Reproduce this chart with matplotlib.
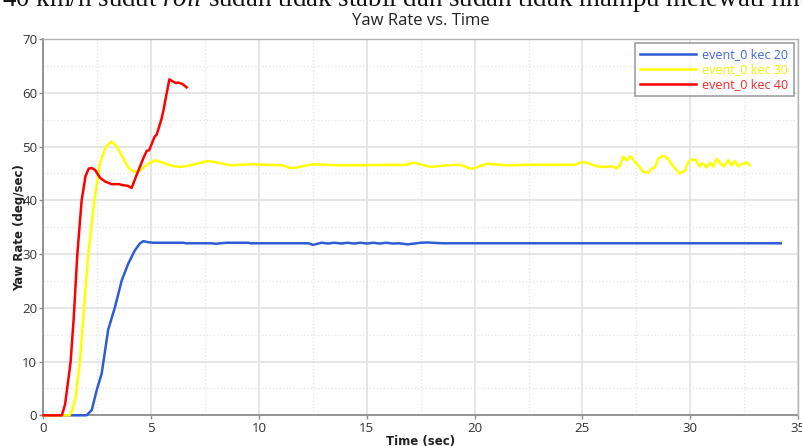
import matplotlib
matplotlib.use("Agg")
import matplotlib.pyplot as plt
from matplotlib.ticker import MultipleLocator

# ---- data ----
blue_t = [0, 2.0, 2.24, 2.47, 2.7, 3.0, 3.32, 3.63, 3.93, 4.24, 4.48, 4.63, 4.85, 5.1,
          6.5, 6.6, 7.8, 8.0, 8.2, 8.5, 9.5, 9.6, 12.3, 12.5, 12.7, 12.9, 13.2, 13.5,
          13.8, 14.1, 14.4, 14.7, 15.0, 15.3, 15.6, 15.9, 16.2, 16.5, 16.9, 17.1, 17.5,
          17.8, 18.5, 19.0, 34.2]
blue_y = [0, 0, 1.0, 4.7, 7.8, 15.9, 20.2, 25.1, 28.2, 30.7, 32.0, 32.4, 32.2, 32.1,
          32.1, 32.0, 32.0, 31.9, 32.0, 32.1, 32.1, 32.0, 32.0, 31.7, 31.9, 32.1, 31.95, 32.1,
          31.95, 32.1, 31.95, 32.1, 31.95, 32.1, 31.95, 32.1, 31.95, 32.0, 31.8, 31.9, 32.1,
          32.15, 32.0, 32.0, 32.0]

yellow_t = [0, 1.2, 1.35, 1.5, 1.69, 1.88, 2.08, 2.36, 2.62, 2.9, 3.16, 3.4, 3.7, 3.95,
            4.17, 4.5, 4.8, 5.17, 5.45, 5.71, 6.0, 6.33, 6.7, 7.1, 7.64, 8.1, 8.65, 9.58,
            11.1, 11.35, 11.59, 11.85, 12.5, 13.75, 16.85, 17.12, 17.4, 17.93, 18.7, 19.32,
            19.86, 20.56, 21.48, 22.57, 24.65, 24.96, 25.19, 25.66, 25.97, 26.43, 26.59,
            26.74, 26.89, 27.05, 27.23, 27.44, 27.59, 27.82, 28.05, 28.21, 28.36, 28.52,
            28.78, 28.98, 29.18, 29.37, 29.52, 29.75, 29.91, 30.06, 30.26, 30.42, 30.57,
            30.76, 30.91, 31.07, 31.23, 31.38, 31.56, 31.76, 31.92, 32.07, 32.23, 32.38,
            32.62, 32.77]
yellow_y = [0, 0, 1.0, 3.5, 10.0, 20.0, 30.0, 40.0, 47.0, 50.0, 50.9, 50.0, 47.8, 46.0,
            45.3, 45.6, 46.6, 47.45, 47.1, 46.7, 46.4, 46.2, 46.4, 46.8, 47.3, 47.0, 46.5, 46.7,
            46.5, 46.1, 45.97, 46.2, 46.7, 46.5, 46.6, 47.0, 46.8, 46.2, 46.5, 46.6,
            45.8, 46.8, 46.5, 46.6, 46.6, 47.1, 47.0, 46.3, 46.2, 46.3, 45.9,
            46.5, 48.1, 47.45, 48.2, 47.1, 46.5, 45.3, 45.1, 45.9, 46.1, 47.8,
            48.3, 47.6, 46.5, 45.6, 45.0, 45.5, 47.1, 47.6, 47.5, 46.3, 46.96,
            46.1, 46.96, 46.3, 47.7, 46.96, 46.3, 47.45, 46.5, 47.3, 46.3, 46.7,
            47.0, 46.5]

red_t = [0, 0.85, 1.0, 1.13, 1.26, 1.4, 1.57, 1.77, 1.95, 2.1, 2.24, 2.4, 2.62, 2.85,
         3.16, 3.5, 3.69, 3.9, 4.09, 4.3, 4.48, 4.65, 4.79, 4.9, 5.02, 5.15, 5.25, 5.35,
         5.48, 5.58, 5.68, 5.84, 5.95, 6.05, 6.15, 6.25, 6.33, 6.45, 6.55, 6.64]
red_y = [0, 0, 2.0, 6.0, 10.0, 18.0, 30.0, 40.0, 44.5, 45.9, 46.0, 45.6, 44.2, 43.5,
         43.0, 43.0, 42.8, 42.7, 42.3, 44.5, 46.3, 48.0, 49.2, 49.3, 50.5, 51.8, 52.2, 53.5,
         55.2, 57.0, 59.2, 62.5, 62.2, 62.0, 61.8, 61.9, 61.8, 61.6, 61.3, 61.0]

series_labels = ["event_0 kec 20", "event_0 kec 30", "event_0 kec 40"]
series_colors = ["#2f5cd2", "#ffff00", "#ff0000"]
legend_text_colors = ["#4068d8", "#f2f200", "#ff2424"]

# ---- figure ----
plt.rcParams["mathtext.fontset"] = "custom"
plt.rcParams["mathtext.rm"] = "Liberation Serif"
plt.rcParams["mathtext.it"] = "Liberation Serif:italic"

ui_font = ["Open Sans", "DejaVu Sans"]

fig = plt.figure(figsize=(8.03, 4.46), dpi=100)
ax = fig.add_axes([43.5 / 803, 1 - 415.3 / 446, (798 - 43.5) / 803, (415.3 - 39) / 446])

# paragraph line above the chart, clipped by the top edge
fig.text(2 / 803, 1 - 5.5 / 446,
         r"40 km/h sudut $\it{roll}$ sudah tidak stabil dan sudah tidak mampu melewati lintasan",
         fontsize=19.4, family="Liberation Serif", color="#111111", va="baseline", ha="left")

for t, y, lab, c in zip([blue_t, yellow_t, red_t], [blue_y, yellow_y, red_y],
                        series_labels, series_colors):
    ax.plot(t, y, color=c, lw=1.8, label=lab, solid_joinstyle="round",
            clip_on=False, zorder=3)

ax.set_xlim(0, 35)
ax.set_ylim(0, 70)
ax.xaxis.set_major_locator(MultipleLocator(5))
ax.xaxis.set_minor_locator(MultipleLocator(2.5))
ax.yaxis.set_major_locator(MultipleLocator(10))
ax.yaxis.set_minor_locator(MultipleLocator(5))

ax.grid(which="major", color="#e2e2e2", lw=1.2, ls="-")
ax.grid(which="minor", color="#e6e6e6", lw=1.0, ls=(0, (1, 1.5)))
ax.set_axisbelow(True)

for side in ["left", "bottom"]:
    ax.spines[side].set_color("#8c8c8c")
    ax.spines[side].set_linewidth(1.3)
    ax.spines[side].set_zorder(2)
for side in ["top", "right"]:
    ax.spines[side].set_color("#b4b4b4")
    ax.spines[side].set_linewidth(1.0)

ax.tick_params(which="major", direction="out", length=3, width=1, color="#8c8c8c",
               labelsize=9.5, labelcolor="#333333", pad=1.5)
ax.tick_params(which="minor", length=0)
for lab in ax.get_xticklabels() + ax.get_yticklabels():
    lab.set_family(ui_font)

ax.set_title("Yaw Rate vs. Time", fontsize=12, family=ui_font, color="#222222", pad=10)
ax.set_xlabel("Time (sec)", fontsize=8.5, fontweight="bold", family=["DejaVu Sans"],
              color="#222222", labelpad=0)
ax.set_ylabel("Yaw Rate (deg/sec)", fontsize=8.5, fontweight="bold", family=["DejaVu Sans"],
              color="#222222", labelpad=-3)

leg = ax.legend(loc="upper right", frameon=True, fancybox=False,
                handlelength=4.5, borderpad=0.4, labelspacing=0.15, handletextpad=0.5,
                borderaxespad=0.35, prop={"family": ui_font, "size": 9})
leg.get_frame().set_edgecolor("#888888")
leg.get_frame().set_linewidth(1.2)
leg.set_zorder(5)
for txt, c in zip(leg.get_texts(), legend_text_colors):
    txt.set_color(c)

fig.savefig("out.png", dpi=100)
